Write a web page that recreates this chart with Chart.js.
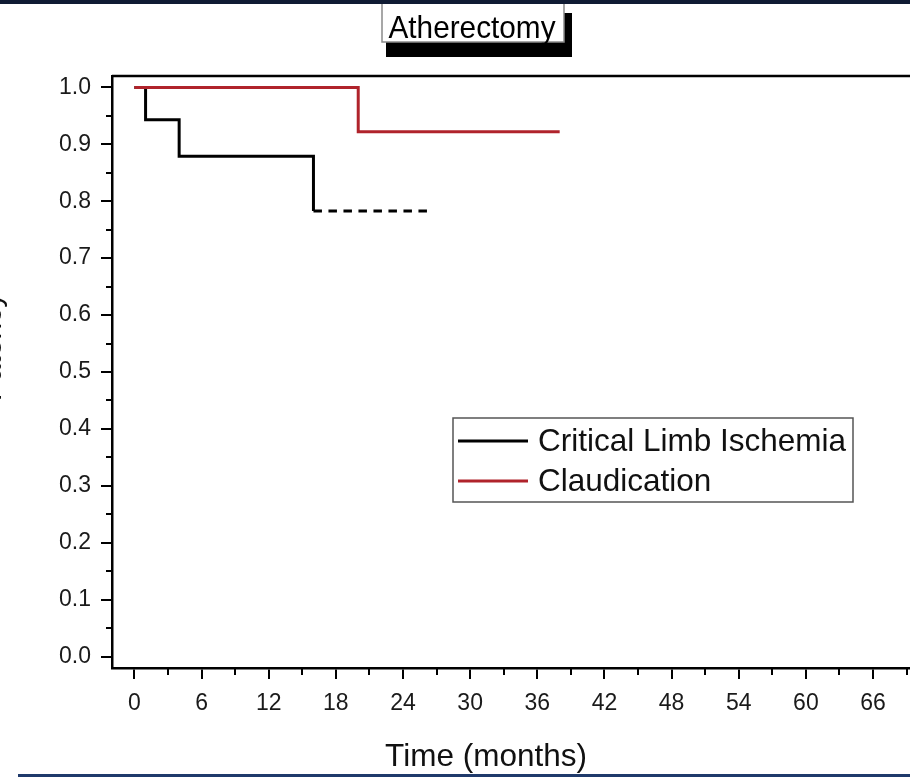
<!DOCTYPE html>
<html>
<head>
<meta charset="utf-8">
<title>Atherectomy</title>
<script src="https://cdn.jsdelivr.net/npm/chart.js@4.4.1/dist/chart.umd.min.js"></script>
<style>
  html, body { margin: 0; padding: 0; background: #fff; overflow: hidden; }
  #topband { position: absolute; left: 0; top: 0; width: 910px; height: 4px; background: #0f1b33; z-index: 2; }
  #bottomline { position: absolute; left: 18px; top: 774px; width: 892px; height: 3px; background: #1f3a6b; z-index: 2; }
  #wrap { position: absolute; left: -40px; top: 0; width: 1004px; height: 777px; }
</style>
</head>
<body>
<div id="topband"></div>
<div id="wrap"><canvas id="km"></canvas></div>
<div id="bottomline"></div>
<script>
// Kaplan-Meier style patency
var monthsCLI = [0, 1, 4, 16, 26.2];
var patencyCLI = [1.0, 0.943, 0.879, 0.783, 0.783];
var monthsClaud = [0, 20, 38];
var patencyClaud = [1.0, 0.922, 0.922];

var xTicks = [0, 6, 12, 18, 24, 30, 36, 42, 48, 54, 60, 66, 72];
var xMinorTicks = [3, 9, 15, 21, 27, 33, 39, 45, 51, 57, 63, 69];
var yTicks = [0, 0.1, 0.2, 0.3, 0.4, 0.5, 0.6, 0.7, 0.8, 0.9, 1.0];
var yMinorTicks = [0.05, 0.15, 0.25, 0.35, 0.45, 0.55, 0.65, 0.75, 0.85, 0.95];

var FONT = "'Liberation Sans', Arial, Helvetica, sans-serif";

function toPoints(xs, ys) {
  return xs.map(function (x, i) { return { x: x, y: ys[i] }; });
}

// title box, axis titles, frame, minor ticks and legend box
var decorations = {
  id: 'decorations',
  afterDraw: function (chart) {
    var ctx = chart.ctx;
    var area = chart.chartArea;
    var xs = chart.scales.x, ys = chart.scales.y;
    ctx.save();

    // top frame of the plot box
    ctx.strokeStyle = '#000';
    ctx.lineWidth = 2.5;
    ctx.beginPath();
    ctx.moveTo(area.left, area.top);
    ctx.lineTo(area.right, area.top);
    ctx.lineTo(area.right, area.bottom);
    ctx.stroke();

    // minor ticks
    ctx.lineWidth = 2;
    ctx.beginPath();
    xMinorTicks.forEach(function (v) {
      var px = Math.round(xs.getPixelForValue(v));
      ctx.moveTo(px, area.bottom);
      ctx.lineTo(px, area.bottom + 7);
    });
    yMinorTicks.forEach(function (v) {
      var py = Math.round(ys.getPixelForValue(v));
      ctx.moveTo(area.left, py);
      ctx.lineTo(area.left - 6, py);
    });
    ctx.stroke();

    // title with drop shadow
    ctx.fillStyle = '#000';
    ctx.fillRect(426, 13, 186, 44);
    ctx.fillStyle = '#fff';
    ctx.fillRect(422, 2, 182, 40);
    ctx.strokeStyle = '#8a8a8a';
    ctx.lineWidth = 1.5;
    ctx.strokeRect(422, 2, 182, 40);
    ctx.fillStyle = '#000';
    ctx.save();
    ctx.translate(512, 37.5);
    ctx.scale(0.93, 1);
    ctx.font = '32px ' + FONT;
    ctx.textAlign = 'center';
    ctx.textBaseline = 'alphabetic';
    ctx.fillText('Atherectomy', 0, 0);
    ctx.restore();

    // x title
    ctx.font = '31.5px ' + FONT;
    ctx.textAlign = 'center';
    ctx.textBaseline = 'middle';
    ctx.fillStyle = '#111';
    ctx.fillText('Time (months)', 526, 757);

    // y title, mostly cut off at the left edge
    ctx.save();
    ctx.translate(33, 347);
    ctx.rotate(-Math.PI / 2);
    ctx.font = '30px ' + FONT;
    ctx.fillText('Patency', 0, 0);
    ctx.restore();

    // legend
    var lx = 493, ly = 418, lw = 400, lh = 84;
    ctx.fillStyle = '#fff';
    ctx.fillRect(lx, ly, lw, lh);
    ctx.strokeStyle = '#555';
    ctx.lineWidth = 1.5;
    ctx.strokeRect(lx, ly, lw, lh);
    ctx.font = '31.5px ' + FONT;
    ctx.textAlign = 'left';
    ctx.textBaseline = 'middle';
    chart.data.datasets.forEach(function (ds, i) {
      var yy = ly + 23 + i * 40;
      ctx.strokeStyle = ds.borderColor;
      ctx.lineWidth = 3;
      ctx.beginPath();
      ctx.moveTo(lx + 5, yy);
      ctx.lineTo(lx + 75, yy);
      ctx.stroke();
      ctx.fillStyle = '#111';
      ctx.fillText(ds.label, lx + 85, yy + 1);
    });

    ctx.restore();
  }
};

new Chart(document.getElementById('km'), {
  type: 'line',
  data: {
    datasets: [{
      label: 'Critical Limb Ischemia',
      data: toPoints(monthsCLI, patencyCLI),
      borderColor: '#000000',
      borderWidth: 3,
      stepped: 'before',
      pointRadius: 0,
      fill: false,
      order: 1,
      segment: {
        borderDash: function (c) {
          return c.p1DataIndex === monthsCLI.length - 1 ? [8.5, 6.5] : undefined;
        }
      }
    }, {
      label: 'Claudication',
      data: toPoints(monthsClaud, patencyClaud),
      borderColor: '#b0232b',
      borderWidth: 3,
      stepped: 'before',
      pointRadius: 0,
      fill: false,
      order: 0
    }]
  },
  options: {
    responsive: true,
    maintainAspectRatio: false,
    animation: false,
    layout: { padding: { top: 76, right: 18, bottom: 0, left: 0 } },
    plugins: {
      legend: { display: false },
      title: { display: false },
      tooltip: { enabled: false }
    },
    scales: {
      x: {
        type: 'linear',
        min: -2,
        max: 72,
        afterBuildTicks: function (s) { s.ticks = xTicks.map(function (v) { return { value: v }; }); },
        afterFit: function (s) { s.height = 109; },
        border: { display: true, color: '#000', width: 2.5 },
        grid: { drawOnChartArea: false, tickLength: 11, color: '#000', lineWidth: 2 },
        ticks: { color: '#1a1a1a', font: { family: FONT, size: 23 }, padding: 11, maxRotation: 0 }
      },
      y: {
        min: -0.02,
        max: 1.02,
        afterBuildTicks: function (s) { s.ticks = yTicks.map(function (v) { return { value: v }; }); },
        afterFit: function (s) { s.width = 152; },
        border: { display: true, color: '#000', width: 2.5 },
        grid: { drawOnChartArea: false, tickLength: 11, color: '#000', lineWidth: 2 },
        ticks: {
          color: '#1a1a1a',
          font: { family: FONT, size: 23 },
          padding: 10,
          callback: function (v) { return Number(v).toFixed(1); }
        }
      }
    }
  },
  plugins: [decorations]
});
</script>
</body>
</html>
